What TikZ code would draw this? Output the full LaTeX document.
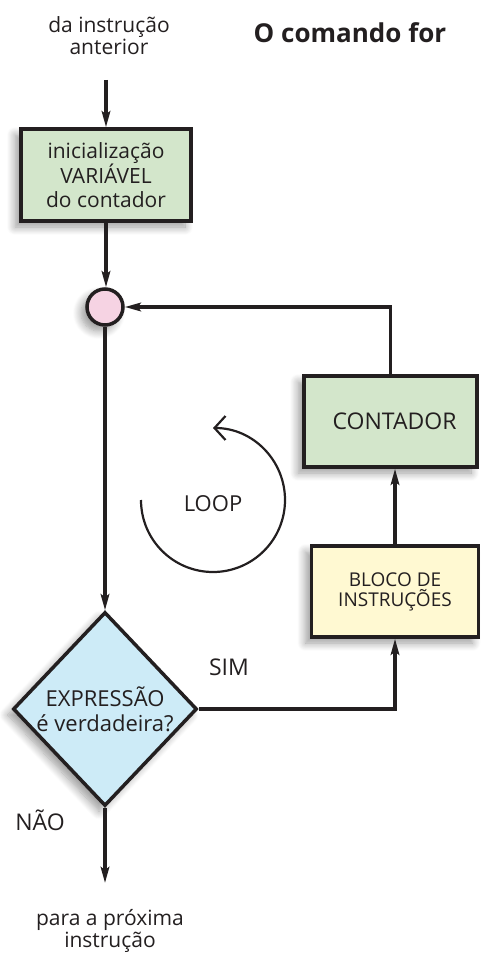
\documentclass[tikz,border=0pt]{standalone}
\usepackage{fontspec}
\setmainfont{Open Sans}
\usetikzlibrary{arrows.meta,shapes.geometric,shadows.blur}

\definecolor{boxgreen}{HTML}{D3E6CB}
\definecolor{boxyellow}{HTML}{FFF9D2}
\definecolor{boxblue}{HTML}{CDEBF7}
\definecolor{joinpink}{HTML}{F6D3E3}
\definecolor{ink}{HTML}{231F20}

\tikzset{
  softshadow/.style={blur shadow={shadow xshift=-6pt, shadow yshift=-6pt,
      shadow blur steps=10, shadow blur radius=8pt, shadow opacity=40}},
  procbox/.style={draw=ink, line width=3.5pt, inner sep=0pt, softshadow,
      align=center, font=\fontsize{21}{23.5}\selectfont, text=ink},
  decision/.style={diamond, draw=ink, line width=3.5pt, fill=boxblue, inner sep=0pt,
      minimum width=184pt, minimum height=194pt, softshadow, align=center,
      font=\fontsize{22}{25}\selectfont, text=ink},
  junction/.style={circle, draw=ink, line width=3.5pt, fill=joinpink,
      minimum size=36pt, inner sep=0pt, softshadow},
  flow/.style={draw=ink, line width=3.5pt, -{Stealth[length=16pt,width=8.5pt,inset=3pt]}},
  label/.style={align=center, text=ink, font=\fontsize{21}{22}\selectfont},
}

\begin{document}
\begin{tikzpicture}[x=1pt,y=-1pt]
  \useasboundingbox (0,0) rectangle (483,957);

  % captions and title
  \node[label] (from) at (109,36) {da instrução\\anterior};
  \node[text=ink, font=\fontsize{26}{28}\bfseries\selectfont] (title) at (350,33) {O comando for};

  % blocks
  \node[procbox, fill=boxgreen, minimum width=170pt, minimum height=92pt] (init) at (106,175)
    {inicialização\\VARIÁVEL\\do contador};
  \node[junction] (join) at (105,307) {};
  \node[procbox, fill=boxgreen, minimum width=173pt, minimum height=91pt,
        font=\fontsize{23}{26}\selectfont] (count) at (390.5,421.5)
    {\hspace*{8pt}CONTADOR};
  \node[procbox, fill=boxyellow, minimum width=167pt, minimum height=91pt,
        font=\fontsize{19}{20}\selectfont] (block) at (395,591.5) {BLOCO DE\\INSTRUÇÕES};
  \node[decision] (cond) at (105,709) {EXPRESSÃO\\é verdadeira?};

  % free ends of the entry and exit arrows
  \coordinate (entry) at (106,80);
  \coordinate (exit) at (105,883);

  % connectors
  \draw[flow] (entry) -- (init.north);
  \draw[flow] (init.south) -- (init.south |- join.north);
  \draw[flow] (join.south) -- (cond.north);
  \draw[flow] (cond.south) -- (exit);
  \draw[flow] (cond.east) -| (block.south);
  \draw[flow] (block.north) -- (block.north |- count.south);
  \draw[flow] (count.north) |- (join.east);

  % branch labels
  \node[label, font=\fontsize{23}{25}\selectfont] (yes) at (229,667) {SIM};
  \node[label, font=\fontsize{23}{25}\selectfont] (no) at (40,820) {NÃO};
  \node[label] (to) at (110,931) {para a próxima\\instrução};

  % loop symbol
  \node[label, font=\fontsize{22}{24}\selectfont] (loop) at (213,504) {LOOP};
  \draw[draw=ink, line width=2.2pt, -{Straight Barb[length=11pt,width=24pt]}]
    (141,500) arc[start angle=180, end angle=450, radius=72pt];
\end{tikzpicture}
\end{document}
